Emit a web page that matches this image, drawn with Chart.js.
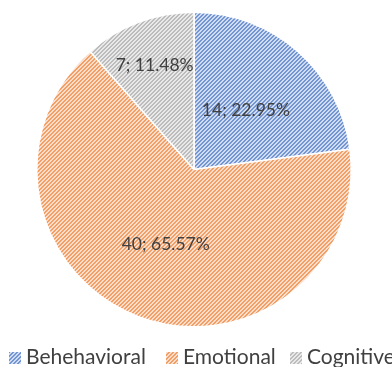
<!DOCTYPE html>
<html>
<head>
<meta charset="utf-8">
<script src="https://cdn.jsdelivr.net/npm/chart.js@4.4.1/dist/chart.umd.min.js"></script>
<style>
  html, body { margin: 0; padding: 0; background: #fff; }
  canvas { display: block; }
</style>
</head>
<body>
<canvas id="pieChart" width="392" height="367"></canvas>
<script>
// data
const categories = ["Behehavioral", "Emotional", "Cognitive"];
const counts = [14, 40, 7];
const seriesColors = ["#4472C4", "#ED7D31", "#A5A5A5"];

const total = counts.reduce((a, b) => a + b, 0);
const dataLabels = counts.map(v => v + "; " + (v / total * 100).toFixed(2) + "%");

// diagonal "/" hatching like the office pattern fill, drawn pixel by pixel
function hatch(color) {
  const n = 4;
  const c = document.createElement("canvas");
  c.width = n;
  c.height = n;
  const g = c.getContext("2d");
  const rgb = [1, 3, 5].map(k => parseInt(color.slice(k, k + 2), 16));
  const mix = t => rgb.map(v => Math.round(v * t + 255 * (1 - t)));
  const stripe = mix(0.75);
  const gap = mix(0.25);
  const img = g.createImageData(n, n);
  for (let y = 0; y < n; y++) {
    for (let x = 0; x < n; x++) {
      const col = (x + y) % n < 2 ? stripe : gap;
      const i = (y * n + x) * 4;
      img.data[i] = col[0];
      img.data[i + 1] = col[1];
      img.data[i + 2] = col[2];
      img.data[i + 3] = 255;
    }
  }
  g.putImageData(img, 0, 0);
  return g.createPattern(c, "repeat");
}

const fills = seriesColors.map(hatch);

// labels inside slices, at a fraction of the radius
const sliceLabels = {
  id: "sliceLabels",
  afterDatasetsDraw(chart, args, opts) {
    const ctx = chart.ctx;
    const meta = chart.getDatasetMeta(0);
    ctx.save();
    ctx.font = opts.font;
    ctx.fillStyle = opts.color;
    ctx.textAlign = "center";
    ctx.textBaseline = "middle";
    meta.data.forEach((arc, i) => {
      const p = arc.getProps(["x", "y", "startAngle", "endAngle", "outerRadius"], true);
      const mid = (p.startAngle + p.endAngle) / 2;
      const r = p.outerRadius * opts.radius[i];
      ctx.fillText(dataLabels[i], p.x + Math.cos(mid) * r, p.y + Math.sin(mid) * r);
    });
    ctx.restore();
  }
};

// legend row along the bottom edge
const bottomLegend = {
  id: "bottomLegend",
  afterDraw(chart, args, opts) {
    const ctx = chart.ctx;
    ctx.save();
    ctx.font = opts.font;
    ctx.textBaseline = "alphabetic";
    ctx.textAlign = "left";
    chart.data.labels.forEach((label, i) => {
      const bx = opts.boxX[i];
      ctx.fillStyle = fills[i];
      ctx.fillRect(bx, opts.boxY, opts.boxSize, opts.boxSize);
      ctx.fillStyle = opts.color;
      ctx.fillText(label, bx + opts.boxSize + 5, opts.baseline);
    });
    ctx.restore();
  }
};

new Chart(document.getElementById("pieChart"), {
  type: "pie",
  data: {
    labels: categories,
    datasets: [{
      data: counts,
      backgroundColor: fills,
      borderColor: "#ffffff",
      borderWidth: 1.5,
      hoverOffset: 0
    }]
  },
  options: {
    responsive: false,
    devicePixelRatio: 1,
    animation: false,
    events: [],
    layout: { padding: { left: 36, right: 40, top: 11, bottom: 39 } },
    plugins: {
      legend: { display: false },
      tooltip: { enabled: false },
      sliceLabels: {
        font: "17.5px Lato",
        color: "#404040",
        radius: [0.5, 0.51, 0.71]
      },
      bottomLegend: {
        font: "21px Lato",
        color: "#404040",
        boxX: [9, 166, 290],
        boxY: 352,
        boxSize: 12,
        baseline: 364
      }
    }
  },
  plugins: [sliceLabels, bottomLegend]
});
</script>
</body>
</html>
